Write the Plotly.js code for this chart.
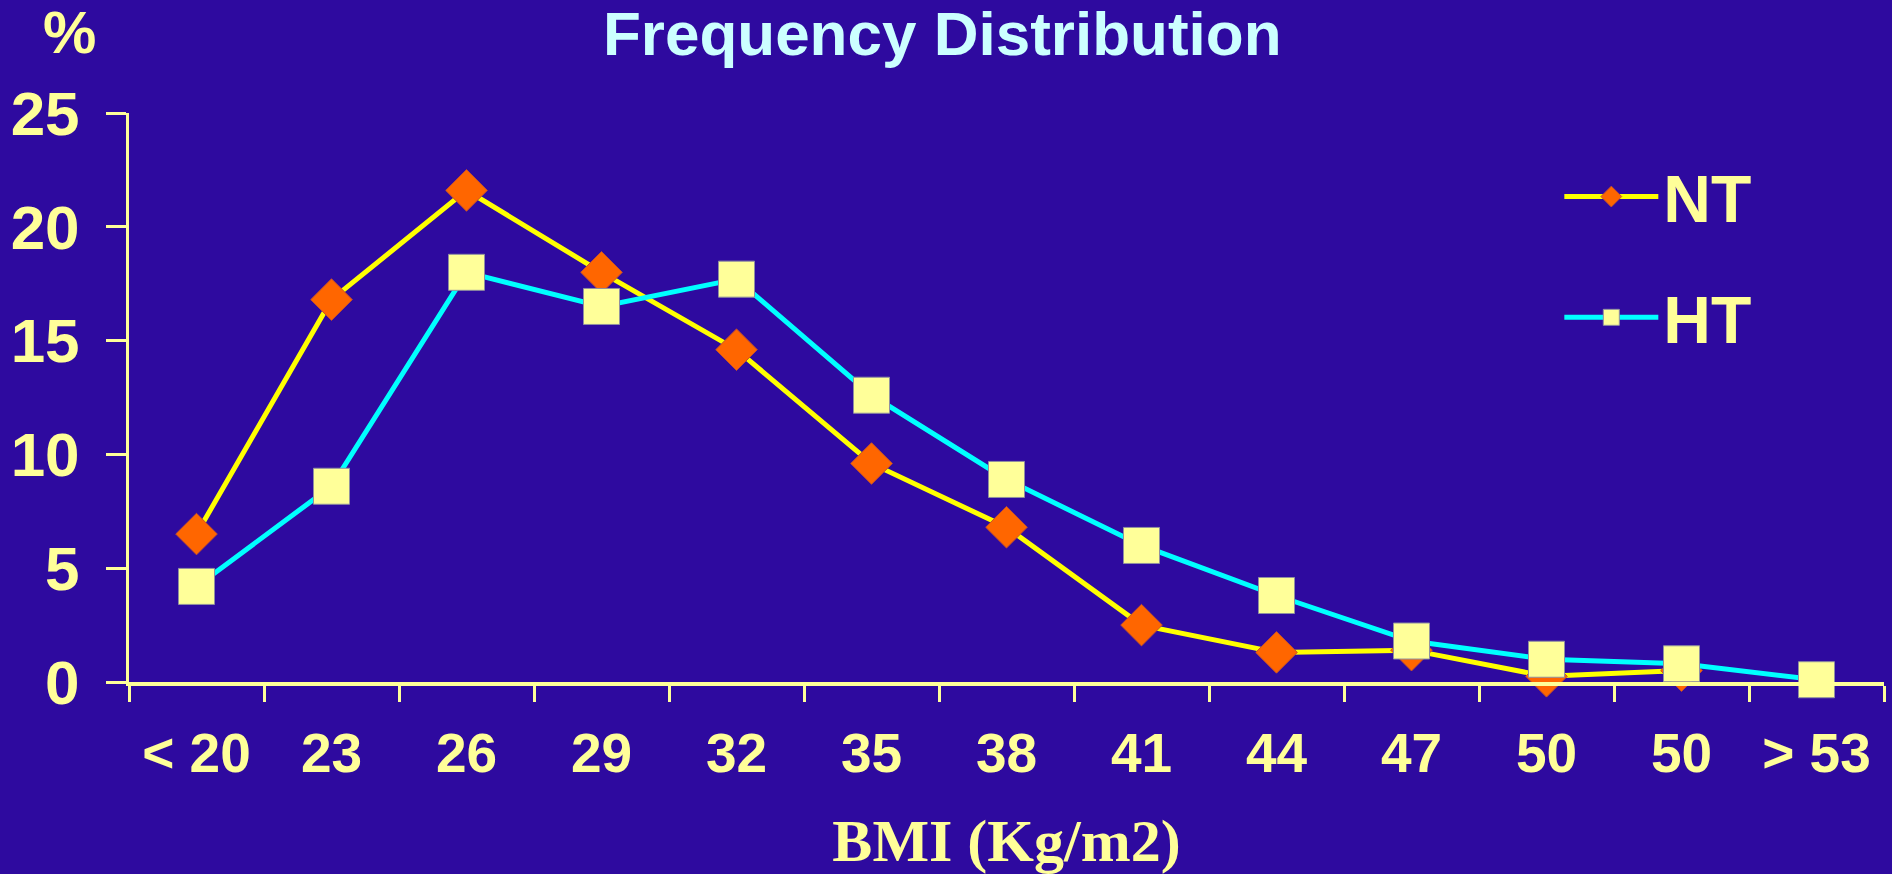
<!DOCTYPE html>
<html>
<head>
<meta charset="utf-8">
<script src="https://cdn.plot.ly/plotly-3.0.1.min.js"></script>
<style>
  html, body { margin: 0; padding: 0; background: #2E0A9F; }
  #chart { width: 1892px; height: 874px; }
</style>
</head>
<body>
<div id="chart"></div>
<script>
// ---- data ----
const categories = ["< 20", "23", "26", "29", "32", "35", "38", "41", "44", "47", "50", "50", "> 53"];
const ntValues = [6.5, 16.8, 21.6, 18.0, 14.6, 9.6, 6.8, 2.5, 1.3, 1.4, 0.25, 0.5, null];
const htValues = [4.2, 8.6, 18.0, 16.5, 17.7, 12.6, 8.9, 6.0, 3.8, 1.8, 1.0, 0.8, 0.1];
const seriesNames = ["NT", "HT"];
const yTicks = [0, 5, 10, 15, 20, 25];

const xIdx = categories.map((_, i) => i);
const txt = '#FFFF99';

const traces = [
  {
    x: xIdx, y: ntValues, name: seriesNames[0], legendgroup: 'a',
    mode: 'lines+markers', type: 'scatter', cliponaxis: false,
    line: { color: '#FFFF00', width: 5 },
    marker: { symbol: 'diamond', size: 32, color: '#FF6600', line: { color: '#C05030', width: 1 } }
  },
  {
    x: xIdx, y: htValues, name: seriesNames[1], legendgroup: 'b',
    mode: 'lines+markers', type: 'scatter', cliponaxis: false,
    line: { color: '#00FFFF', width: 5 },
    marker: { symbol: 'square', size: 36, color: '#FFFF99', line: { color: '#9090A0', width: 1 } }
  }
];

const layout = {
  width: 1892, height: 874,
  paper_bgcolor: '#2E0A9F', plot_bgcolor: '#2E0A9F',
  margin: { l: 129, r: 8, t: 113, b: 192 },
  showlegend: true,
  title: {
    text: 'Frequency Distribution',
    font: { family: 'Liberation Sans, Arial, sans-serif', size: 62, color: '#CCFFFF', weight: 'bold' },
    x: 0.498, xanchor: 'center', y: 0.962, yanchor: 'middle'
  },
  xaxis: {
    range: [-0.5, 12.5], fixedrange: true,
    tickmode: 'array', tickvals: xIdx, ticktext: categories,
    ticks: '', showgrid: false, zeroline: false,
    showline: true, linecolor: txt, linewidth: 4,
    ticklabelstandoff: 20,
    tickfont: { family: 'Liberation Sans, Arial, sans-serif', size: 55, color: txt, weight: 'bold' },
    minor: { tick0: -0.5, dtick: 1, ticks: 'outside', ticklen: 16, tickwidth: 3, tickcolor: txt, showgrid: false },
    title: {
      text: 'BMI (Kg/m2)', standoff: 52,
      font: { family: 'Liberation Serif, Times New Roman, serif', size: 60, color: txt, weight: 'bold' }
    }
  },
  yaxis: {
    range: [0, 25], fixedrange: true,
    tickmode: 'array', tickvals: yTicks,
    ticks: 'outside', ticklen: 20, tickwidth: 3, tickcolor: txt,
    showgrid: false, zeroline: false,
    showline: true, linecolor: txt, linewidth: 3,
    ticklabelstandoff: 14,
    tickfont: { family: 'Liberation Sans, Arial, sans-serif', size: 62, color: txt, weight: 'bold' }
  },
  legend: {
    x: 0.815, xanchor: 'left', y: 0.94, yanchor: 'top',
    bgcolor: 'rgba(0,0,0,0)', borderwidth: 0,
    font: { family: 'Liberation Sans, Arial, sans-serif', size: 66, color: txt, weight: 'bold' },
    tracegroupgap: 32, itemwidth: 94, traceorder: 'grouped'
  },
  annotations: [
    {
      text: '%', xref: 'paper', yref: 'paper', x: -0.034, y: 1.142,
      xanchor: 'center', yanchor: 'middle', showarrow: false,
      font: { family: 'Liberation Sans, Arial, sans-serif', size: 60, color: txt, weight: 'bold' }
    }
  ]
};

Plotly.newPlot('chart', traces, layout, { staticPlot: true, displayModeBar: false });
</script>
</body>
</html>
